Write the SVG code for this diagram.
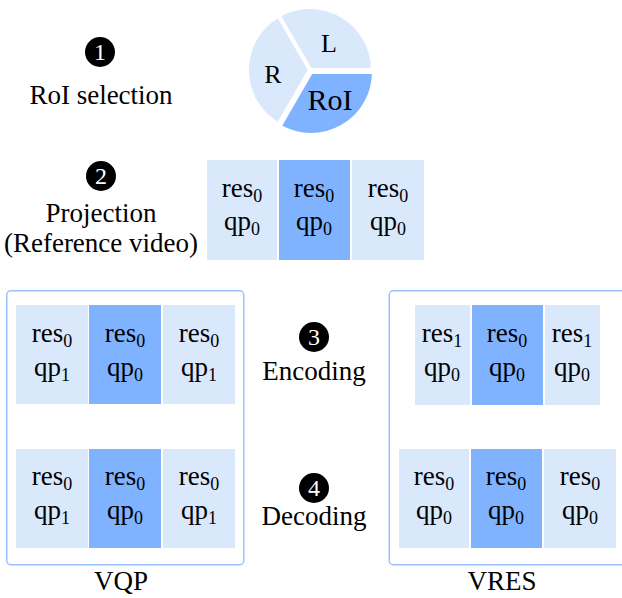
<svg xmlns="http://www.w3.org/2000/svg" width="622" height="598" viewBox="0 0 622 598">
<style>
.lt{fill:#dae8fc}
.dk{fill:#80b3ff}
.box{fill:none;stroke:#99c2ff;stroke-width:1.5}
.wedge{stroke:#fff;stroke-width:4}
</style>
<rect width="622" height="598" fill="#fff"/>
<g font-family="Liberation Serif, serif" font-size="27" text-anchor="middle" fill="#000">
<!-- Step 1 -->
<g id="step1">
<circle cx="100" cy="52" r="15" fill="#000"/>
<text x="100" y="60" font-size="24" fill="#fff">1</text>
<text x="101" y="104">RoI selection</text>
</g>
<g id="pie">
<path class="wedge lt" d="M310,70 L278.5,15.4 A63,63 0 0,1 373,70 Z"/>
<path class="wedge dk" d="M311,72 L374,72 A63,63 0 0,1 279.5,126.6 Z"/>
<path class="wedge lt" d="M310,70 L278.5,124.6 A63,63 0 0,1 278.5,15.4 Z"/>
<text x="329" y="52" font-size="26">L</text>
<text x="273" y="83" font-size="26">R</text>
<text x="330" y="110" font-size="30">RoI</text>
</g>

<!-- Step 2 -->
<g id="step2">
<circle cx="101" cy="176" r="15" fill="#000"/>
<text x="101" y="184" font-size="24" fill="#fff">2</text>
<text x="101" y="222">Projection</text>
<text x="101" y="252">(Reference video)</text>
</g>
<g id="projection">
<rect class="lt" x="207" y="160" width="70" height="100"/>
<rect class="dk" x="279" y="160" width="71" height="100"/>
<rect class="lt" x="352" y="160" width="72" height="100"/>
<text x="242" y="197">res<tspan font-size="18" dy="5">0</tspan></text>
<text x="242" y="230">qp<tspan font-size="18" dy="5">0</tspan></text>
<text x="314" y="197">res<tspan font-size="18" dy="5">0</tspan></text>
<text x="314" y="230">qp<tspan font-size="18" dy="5">0</tspan></text>
<text x="388" y="197">res<tspan font-size="18" dy="5">0</tspan></text>
<text x="388" y="230">qp<tspan font-size="18" dy="5">0</tspan></text>
</g>

<!-- Steps 3/4 labels -->
<g id="step3">
<circle cx="314" cy="337" r="15" fill="#000"/>
<text x="314" y="345" font-size="24" fill="#fff">3</text>
<text x="314" y="380">Encoding</text>
</g>
<g id="step4">
<circle cx="314" cy="488" r="15" fill="#000"/>
<text x="314" y="496" font-size="24" fill="#fff">4</text>
<text x="314" y="525">Decoding</text>
</g>

<!-- VQP -->
<g id="vqp">
<rect class="box" x="6.75" y="290.75" width="237" height="274" rx="4"/>
<rect class="lt" x="16" y="305" width="72" height="99"/>
<rect class="dk" x="89" y="305" width="72" height="99"/>
<rect class="lt" x="163" y="305" width="72" height="99"/>
<text x="52" y="342">res<tspan font-size="18" dy="5">0</tspan></text>
<text x="52" y="376">qp<tspan font-size="18" dy="5">1</tspan></text>
<text x="125" y="342">res<tspan font-size="18" dy="5">0</tspan></text>
<text x="125" y="376">qp<tspan font-size="18" dy="5">0</tspan></text>
<text x="199" y="342">res<tspan font-size="18" dy="5">0</tspan></text>
<text x="199" y="376">qp<tspan font-size="18" dy="5">1</tspan></text>
<rect class="lt" x="16" y="449" width="72" height="99"/>
<rect class="dk" x="89" y="449" width="72" height="99"/>
<rect class="lt" x="163" y="449" width="72" height="99"/>
<text x="52" y="485">res<tspan font-size="18" dy="5">0</tspan></text>
<text x="52" y="519">qp<tspan font-size="18" dy="5">1</tspan></text>
<text x="125" y="485">res<tspan font-size="18" dy="5">0</tspan></text>
<text x="125" y="519">qp<tspan font-size="18" dy="5">0</tspan></text>
<text x="199" y="485">res<tspan font-size="18" dy="5">0</tspan></text>
<text x="199" y="519">qp<tspan font-size="18" dy="5">1</tspan></text>
<text x="121" y="590">VQP</text>
</g>

<!-- VRES -->
<g id="vres">
<rect class="box" x="389.25" y="290.75" width="240" height="274" rx="4"/>
<rect class="lt" x="415" y="305" width="55" height="100"/>
<rect class="dk" x="472" y="305" width="71" height="100"/>
<rect class="lt" x="545" y="305" width="55" height="100"/>
<text x="442" y="342">res<tspan font-size="18" dy="5">1</tspan></text>
<text x="442" y="376">qp<tspan font-size="18" dy="5">0</tspan></text>
<text x="507" y="342">res<tspan font-size="18" dy="5">0</tspan></text>
<text x="507" y="376">qp<tspan font-size="18" dy="5">0</tspan></text>
<text x="572" y="342">res<tspan font-size="18" dy="5">1</tspan></text>
<text x="572" y="376">qp<tspan font-size="18" dy="5">0</tspan></text>
<rect class="lt" x="399" y="449" width="70" height="99"/>
<rect class="dk" x="471" y="449" width="71" height="99"/>
<rect class="lt" x="544" y="449" width="72" height="99"/>
<text x="434" y="485">res<tspan font-size="18" dy="5">0</tspan></text>
<text x="434" y="519">qp<tspan font-size="18" dy="5">0</tspan></text>
<text x="506" y="485">res<tspan font-size="18" dy="5">0</tspan></text>
<text x="506" y="519">qp<tspan font-size="18" dy="5">0</tspan></text>
<text x="580" y="485">res<tspan font-size="18" dy="5">0</tspan></text>
<text x="580" y="519">qp<tspan font-size="18" dy="5">0</tspan></text>
<text x="502" y="590">VRES</text>
</g>
</g>
<g id="connectors"/>
</svg>
